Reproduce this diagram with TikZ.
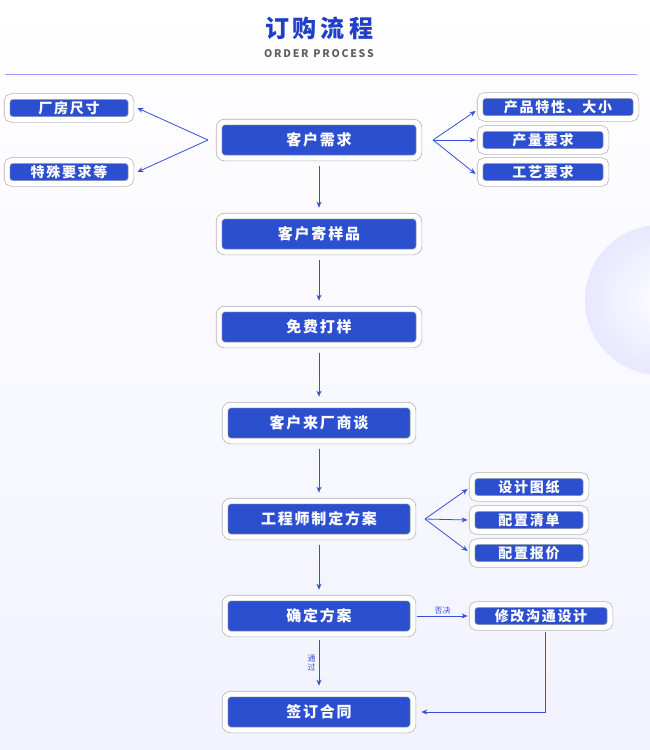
\documentclass[tikz,border=0pt]{standalone}
\usepackage{fontspec}
\setmainfont{Noto Sans CJK SC}
\newfontfamily\spaced{Noto Sans CJK SC}[LetterSpace=12]
\usetikzlibrary{shadows,arrows.meta}
\definecolor{boxblue}{HTML}{2C4FD0}
\definecolor{arrowblue}{HTML}{3550D8}
\definecolor{titleblue}{HTML}{1F3FC8}
\tikzset{
  bx/.style={rounded corners=6pt, fill=boxblue, draw=gray!60, double=white, double distance=5pt,
    line width=0.7pt, text=white, font=\spaced\bfseries\fontsize{15}{15}\selectfont, align=center,
    drop shadow={shadow xshift=1.5pt, shadow yshift=-2pt, opacity=0.3}},
  mainbx/.style={bx, minimum width=200pt, minimum height=36pt},
  smallbx/.style={bx, rounded corners=5pt, minimum height=23pt, inner sep=2pt, font=\spaced\bfseries\fontsize{14}{14}\selectfont},
  arr/.style={-{Stealth[length=6pt,width=5pt]}, draw=arrowblue, line width=0.8pt},
  lbl/.style={text=arrowblue, font=\fontsize{8}{9}\selectfont}
}
\begin{document}
\begin{tikzpicture}[x=1pt,y=-1pt]
\useasboundingbox (0,0) rectangle (650,750);
\shade[top color=white, bottom color=blue!5] (0,0) rectangle (650,750);
\shade[inner color=white, outer color=blue!12, opacity=0.7] (660,300) circle (75);
\node[text=titleblue, font=\bfseries\fontsize{24}{24}\selectfont] (title) at (319,28) {订\,购\,流\,程};
\node[text=gray!75!black, font=\bfseries\fontsize{10.5}{10.5}\selectfont] (sub) at (319,54) {O\,R\,D\,E\,R\ \ P\,R\,O\,C\,E\,S\,S};
\draw[blue!40, line width=1pt] (5,74) -- (637,74);

\node[mainbx] (a) at (319,140) {客户需求};
\node[mainbx] (b) at (319,234) {客户寄样品};
\node[mainbx] (c) at (319,327) {免费打样};
\node[mainbx, minimum width=188pt] (d) at (319,423) {客户来厂商谈};
\node[mainbx, minimum width=188pt] (e) at (319,519) {工程师制定方案};
\node[mainbx, minimum width=188pt] (f) at (319,616) {确定方案};
\node[mainbx, minimum width=188pt] (g) at (319,712) {签订合同};

\node[smallbx, minimum width=124pt] (l1) at (69,108) {厂房尺寸};
\node[smallbx, minimum width=124pt] (l2) at (69,172) {特殊要求等};
\node[smallbx, minimum width=156pt] (r1) at (558,107) {产品特性、大小};
\node[smallbx, minimum width=126pt] (r2) at (543,140) {产量要求};
\node[smallbx, minimum width=126pt] (r3) at (543,172) {工艺要求};
\node[smallbx, minimum width=114pt] (s1) at (529,487) {设计图纸};
\node[smallbx, minimum width=114pt] (s2) at (529,520) {配置清单};
\node[smallbx, minimum width=114pt] (s3) at (529,553) {配置报价};
\node[smallbx, minimum width=138pt] (m) at (541,616) {修改沟通设计};

\coordinate (aL) at (208,140);
\coordinate (aR) at (433,140);
\coordinate (eR) at (425,519);
\draw[arr] (aL) -- ([xshift=6pt]l1.east);
\draw[arr] (aL) -- ([xshift=6pt]l2.east);
\draw[arr] (aR) -- ([xshift=-4pt,yshift=-4pt]r1.west);
\draw[arr] (aR) -- ([xshift=-4pt]r2.west);
\draw[arr] (aR) -- ([xshift=-4pt,yshift=-2pt]r3.west);
\draw[arr] (eR) -- ([xshift=-4pt,yshift=-2pt]s1.west);
\draw[arr] (eR) -- ([xshift=-4pt]s2.west);
\draw[arr] (eR) -- ([xshift=-4pt,yshift=2pt]s3.west);

\draw[arr] ([yshift=-8pt]a.south) -- ([yshift=8pt]b.north);
\draw[arr] ([yshift=-8pt]b.south) -- ([yshift=8pt]c.north);
\draw[arr] ([yshift=-8pt]c.south) -- ([yshift=8pt]d.north);
\draw[arr] ([yshift=-8pt]d.south) -- ([yshift=8pt]e.north);
\draw[arr] ([yshift=-8pt]e.south) -- ([yshift=8pt]f.north);
\draw[arr] ([yshift=-6pt]f.south) -- node[lbl, left, align=center, inner sep=3pt] {通\\过} ([yshift=8pt]g.north);
\draw[arr] ([xshift=4pt]f.east) -- node[lbl, above, inner sep=1pt] {否决} ([xshift=-4pt]m.west);
\coordinate (mc) at (545,712);
\draw[arr] ([yshift=-4pt]m.south -| mc) -- (mc) -- ([xshift=8pt]g.east);
\end{tikzpicture}
\end{document}
